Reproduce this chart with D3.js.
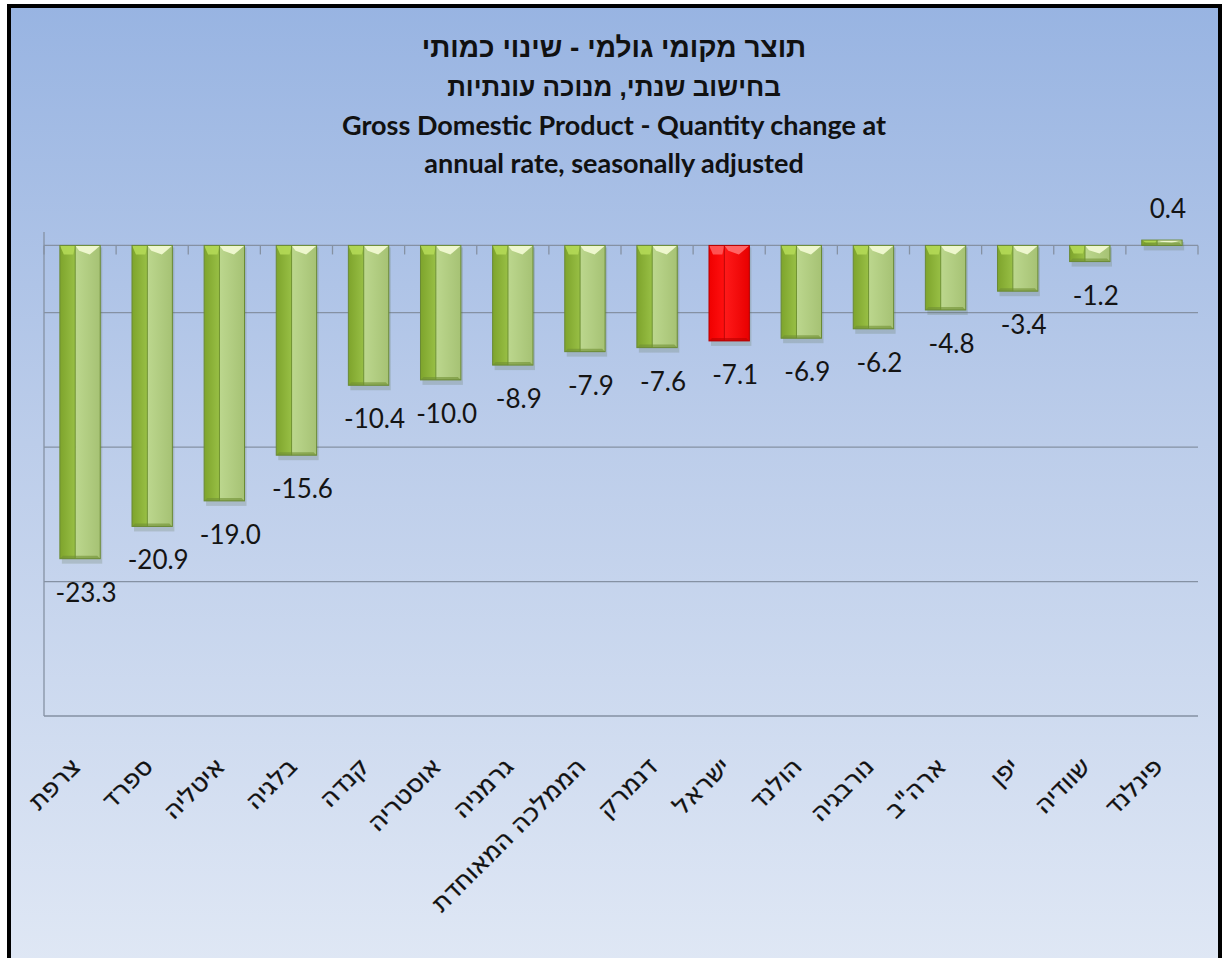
<!DOCTYPE html>
<html>
<head>
<meta charset="utf-8">
<script src="https://cdn.jsdelivr.net/npm/d3@7"></script>
<style>
body { margin:0; background:#fff; }
svg { display:block; }
</style>
</head>
<body>
<svg width="1227" height="958"></svg>
<script>
// data
var countries = ["צרפת","ספרד","איטליה","בלגיה","קנדה","אוסטריה","גרמניה","הממלכה המאוחדת","דנמרק","ישראל","הולנד","נורבגיה","ארה\"ב","יפן","שוודיה","פינלנד"];
var gdpChange = [-23.3,-20.9,-19.0,-15.6,-10.4,-10.0,-8.9,-7.9,-7.6,-7.1,-6.9,-6.2,-4.8,-3.4,-1.2,0.4];
var highlight = "ישראל";
var gridValues = [-5,-15,-25];
var titleHe = ["תוצר מקומי גולמי - שינוי כמותי","בחישוב שנתי, מנוכה עונתיות"];
var titleEn = ["Gross Domestic Product - Quantity change at","annual rate, seasonally adjusted"];

var data = countries.map(function(c,i){ return {name:c, value:gdpChange[i]}; });
var fmt = d3.formatLocale({decimal:".", thousands:",", grouping:[3], currency:["",""], minus:"-"}).format(".1f");

var svg = d3.select("svg");
var defs = svg.append("defs");

var bg = defs.append("linearGradient").attr("id","bg").attr("x1",0).attr("y1",0).attr("x2",0).attr("y2",1);
bg.append("stop").attr("offset","0%").attr("stop-color","#98b4e2");
bg.append("stop").attr("offset","45%").attr("stop-color","#bccdea");
bg.append("stop").attr("offset","100%").attr("stop-color","#e0e8f5");

function hgrad(id, stops){
  var g = defs.append("linearGradient").attr("id",id).attr("x1",0).attr("y1",0).attr("x2",1).attr("y2",0);
  stops.forEach(function(s){ g.append("stop").attr("offset",s[0]).attr("stop-color",s[1]); });
}
hgrad("greenL", [["0%","#7ea42c"],["100%","#98bf45"]]);
hgrad("greenR", [["0%","#bcd78e"],["100%","#a6c274"]]);
hgrad("redL", [["0%","#f00000"],["100%","#ff1010"]]);
hgrad("redR", [["0%","#ff1a1a"],["100%","#e80000"]]);

// frame
svg.append("rect").attr("x",9).attr("y",6).attr("width",1211).attr("height",970)
  .attr("fill","url(#bg)").attr("stroke","#000").attr("stroke-width",4);

var title = svg.append("g").attr("text-anchor","middle").attr("font-weight","bold").attr("fill","#111");
titleHe.forEach(function(t,i){
  title.append("text").attr("x",614).attr("y",57+i*39)
    .attr("font-family","'Liberation Sans', 'DejaVu Sans', sans-serif").attr("font-size",i===0?"28px":"26px").text(t);
});
titleEn.forEach(function(t,i){
  title.append("text").attr("x",614).attr("y",135+i*38)
    .attr("font-family","Lato, 'DejaVu Sans', sans-serif").attr("font-size","27px").text(t);
});

var x = d3.scaleBand().domain(countries).range([44,1198]).paddingInner(0.44).paddingOuter(0.22);
var y = d3.scaleLinear().domain([-35,1]).range([716,232]);

// plot area border lines (left + bottom)
svg.append("line").attr("x1",44).attr("x2",44).attr("y1",y(1)).attr("y2",y(-35)).attr("stroke","#8591a3").attr("stroke-width",1.3);
svg.append("line").attr("x1",44).attr("x2",1198).attr("y1",y(-35)).attr("y2",y(-35)).attr("stroke","#8591a3").attr("stroke-width",1.3);

svg.selectAll(".grid").data(gridValues).enter().append("line")
  .attr("x1",44).attr("x2",1198)
  .attr("y1",function(d){return y(d);}).attr("y2",function(d){return y(d);})
  .attr("stroke","#8591a3").attr("stroke-width",1.3);

// zero axis with category ticks
var xAxis = svg.append("g").attr("transform","translate(0,"+y(0)+")")
  .call(d3.axisBottom(x).tickSize(0).tickFormat(""));
xAxis.select(".domain").attr("stroke","#8591a3").attr("stroke-width",1.3).attr("d","M44,0H1198");
var step = x.step();
xAxis.selectAll(".cat-tick").data(d3.range(countries.length+1)).enter().append("line")
  .attr("x1",function(i){return 44+i*step;}).attr("x2",function(i){return 44+i*step;})
  .attr("y1",0).attr("y2",9).attr("stroke","#8591a3").attr("stroke-width",1.3);

// bars
var bw = x.bandwidth(), split = bw*0.38, bev = 9;
var bars = svg.selectAll(".bar").data(data).enter().append("g").attr("class","bar");
bars.each(function(d){
  var g = d3.select(this);
  var isRed = d.name===highlight;
  var x0 = x(d.name), x1 = x0+split, x2 = x0+bw;
  var top = y(Math.max(0,d.value)), bot = y(Math.min(0,d.value));
  var h = bot-top;
  var b = Math.min(bev, h/2);
  // shadow
  g.append("rect").attr("x",x0+2).attr("y",top+2).attr("width",bw).attr("height",h+3)
    .attr("fill","#51623a").attr("opacity",0.2);
  g.append("rect").attr("x",x0).attr("y",top).attr("width",split).attr("height",h)
    .attr("fill",isRed?"url(#redL)":"url(#greenL)");
  g.append("rect").attr("x",x1).attr("y",top).attr("width",bw-split).attr("height",h)
    .attr("fill",isRed?"url(#redR)":"url(#greenR)");
  // top bevels
  g.append("path").attr("d","M"+x0+","+top+"L"+x1+","+top+"L"+(x1-2)+","+(top+b)+"L"+(x0+4)+","+(top+b)+"Z")
    .attr("fill",isRed?"#ff5a5a":"#b4d957").attr("opacity",0.9);
  g.append("path").attr("d","M"+x1+","+top+"L"+x2+","+top+"L"+(x2-6)+","+(top+b*0.6)+"L"+((x1+x2)/2+2)+","+(top+b)+"L"+(x1+4)+","+(top+b*0.6)+"Z")
    .attr("fill",isRed?"#ff6a6a":"#f1f9d2").attr("opacity",0.95);
  // bottom bevel
  g.append("path").attr("d","M"+x0+","+bot+"L"+x2+","+bot+"L"+(x2-3)+","+(bot-3)+"L"+(x0+3)+","+(bot-3)+"Z")
    .attr("fill",isRed?"#b80000":"#6f8f33").attr("opacity",0.6);
  g.append("rect").attr("x",x0).attr("y",top).attr("width",bw).attr("height",h)
    .attr("fill","none").attr("stroke",isRed?"#b50000":"#6a8a35").attr("stroke-width",1);
  g.append("line").attr("x1",x1).attr("x2",x1).attr("y1",top).attr("y2",bot)
    .attr("stroke",isRed?"#c00000":"#6f9230").attr("stroke-width",1);
});

// value labels
svg.selectAll(".val").data(data).enter().append("text")
  .attr("text-anchor","middle")
  .attr("font-family","Lato, 'DejaVu Sans', sans-serif").attr("font-size","26px").attr("fill","#141414")
  .attr("x",function(d){return x(d.name)+bw/2+6;})
  .attr("y",function(d){return d.value<0 ? y(d.value)+43 : y(d.value)-22;})
  .text(function(d){return fmt(d.value);});

// category labels
svg.selectAll(".cat").data(countries).enter().append("text")
  .attr("text-anchor","end")
  .attr("font-family","'DejaVu Sans', sans-serif").attr("font-size","25px").attr("fill","#111")
  .attr("stroke","#111").attr("stroke-width",0.3)
  .attr("transform",function(d){return "translate("+(x(d)+bw/2+2)+",768) rotate(-45)";})
  .text(function(d){return d;});
</script>
</body>
</html>
